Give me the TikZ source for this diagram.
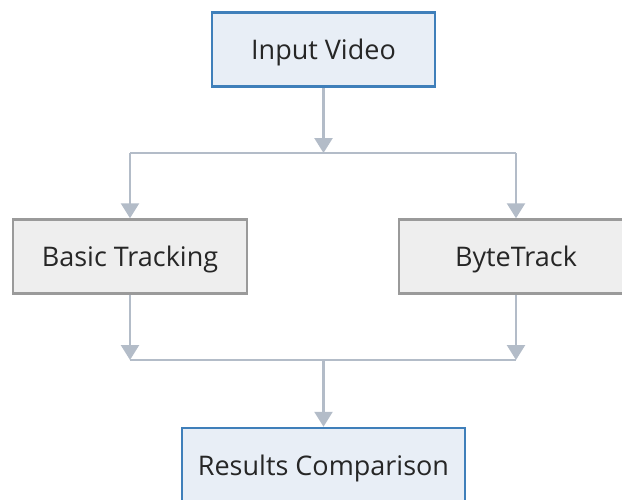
\documentclass[tikz,border=0pt]{standalone}
\usepackage{fontspec}
\setmainfont{Open Sans}
\usetikzlibrary{arrows.meta}
\definecolor{bluefill}{HTML}{E8EEF6}
\definecolor{blueline}{HTML}{3F7FBA}
\definecolor{grayfill}{HTML}{EEEEEE}
\definecolor{grayline}{HTML}{9A9A9A}
\definecolor{conn}{HTML}{B3BCC8}
\tikzset{
  boxbase/.style={line width=2.5pt, minimum height=74pt, inner sep=0pt, text height=24pt, text depth=4pt, font=\fontsize{27}{32}\selectfont, text=black!85},
  bluebox/.style={boxbase, draw=blueline, fill=bluefill},
  graybox/.style={boxbase, draw=grayline, fill=grayfill, minimum width=234pt},
  conline/.style={draw=conn, line width=2.5pt},
  conarrow/.style={conline, -{Triangle[length=15pt,width=18pt]}, shorten >=0pt}
}
\begin{document}
\begin{tikzpicture}[x=1pt,y=-1pt]
\useasboundingbox[fill=white] (0,0) rectangle (622,499);
\begin{scope}
\clip (0,0) rectangle (622,499);
\node[bluebox, minimum width=223pt] (in) at (323.5,49.5) {Input Video};
\node[graybox] (bt) at (130,256.5) {Basic Tracking};
\node[graybox] (byte) at (516,256.5) {ByteTrack};
\node[bluebox, minimum width=283pt] (res) at (323.5,465) {Results Comparison};
\coordinate (j1) at (323.5,153);
\coordinate (j1l) at (130,153);
\coordinate (j1r) at (516,153);
\coordinate (j2) at (323.5,360);
\coordinate (j2l) at (130,360);
\coordinate (j2r) at (516,360);
\draw[conline] (j1l) -- (j1r);
\draw[conline] (j2l) -- (j2r);
\draw[conarrow] (in.south) -- (j1);
\draw[conarrow] (j1l) -- (bt.north);
\draw[conarrow] (j1r) -- (byte.north);
\draw[conarrow] (bt.south) -- (j2l);
\draw[conarrow] (byte.south) -- (j2r);
\draw[conarrow] (j2) -- (res.north);
\end{scope}
\end{tikzpicture}
\end{document}
